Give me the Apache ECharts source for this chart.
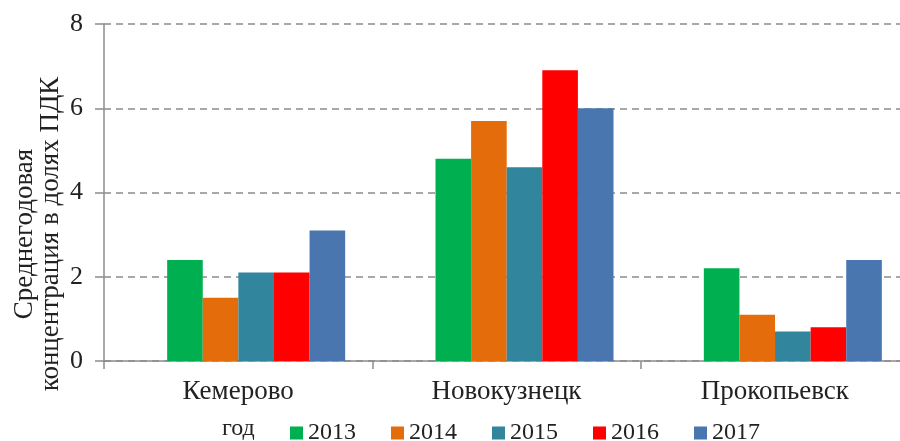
<!DOCTYPE html>
<html>
<head>
<meta charset="utf-8">
<script src="https://cdn.jsdelivr.net/npm/echarts@6/dist/echarts.min.js"></script>
<style>
  html, body { margin: 0; padding: 0; background: #fff; }
  #chart { width: 900px; height: 441px; }
</style>
</head>
<body>
<div id="chart"></div>
<script>
const cities = ['Кемерово', 'Новокузнецк', 'Прокопьевск']
const years = ['2013', '2014', '2015', '2016', '2017']
const v2013 = [2.4, 4.8, 2.2]
const v2014 = [1.5, 5.7, 1.1]
const v2015 = [2.1, 4.6, 0.7]
const v2016 = [2.1, 6.9, 0.8]
const v2017 = [3.1, 6.0, 2.4]
const yTicks = [0, 2, 4, 6, 8]

const values = [v2013, v2014, v2015, v2016, v2017]
const colors = ['#00B050', '#E46C0A', '#31859C', '#FF0000', '#4A76AF']
const font = "'Liberation Serif', 'Times New Roman', serif"
const gray = '#8c8c8c'

const chart = echarts.init(document.getElementById('chart'))

let option = {
  animation: false,
  grid: [
    // axes grid, runs a little past the right edge like the original
    {left: 104, width: 805, top: 24, bottom: 80, outerBoundsMode: 'none'},
    // bars grid (bars sit a bit right of category centres in the original)
    {left: 122, width: 805, top: 24, bottom: 80, outerBoundsMode: 'none'}
  ],
  legend: {
    data: years,
    left: 285,
    top: 416,
    icon: 'rect',
    itemWidth: 13,
    itemHeight: 13,
    itemGap: 35,
    textStyle: {fontFamily: font, fontSize: 24, color: '#222'}
  },
  graphic: [
    {
      type: 'text',
      x: 222,
      y: 429,
      style: {
        text: 'год',
        fontFamily: font,
        fontSize: 24,
        fill: '#222',
        verticalAlign: 'middle'
      }
    },
    {
      type: 'text',
      x: 38,
      y: 234,
      rotation: Math.PI / 2,
      style: {
        text: 'Среднегодовая\nконцентрация в долях ПДК',
        fontFamily: font,
        fontSize: 27,
        fill: '#222',
        align: 'center',
        verticalAlign: 'middle',
        lineHeight: 26
      }
    }
  ],
  xAxis: [
    {
      gridIndex: 0,
      type: 'category',
      data: cities,
      axisLine: {lineStyle: {color: gray, width: 1.5}},
      axisTick: {show: true, length: 8, lineStyle: {color: gray, width: 1.5}},
      axisLabel: {fontFamily: font, fontSize: 27, color: '#222', margin: 17}
    },
    {
      gridIndex: 1,
      type: 'category',
      data: cities,
      show: false
    }
  ],
  yAxis: [
    {
      gridIndex: 0,
      type: 'value',
      min: yTicks[0],
      max: yTicks[yTicks.length - 1],
      interval: 2,
      axisLine: {show: true, lineStyle: {color: gray, width: 1.5}},
      axisTick: {show: true, length: 9, lineStyle: {color: gray, width: 1.5}},
      axisLabel: {fontFamily: font, fontSize: 26, color: '#222', margin: 21},
      splitLine: {lineStyle: {color: gray, width: 1.5, type: [7, 5]}}
    },
    {
      gridIndex: 1,
      type: 'value',
      min: yTicks[0],
      max: yTicks[yTicks.length - 1],
      show: false,
      splitLine: {show: false}
    }
  ],
  series: years.map((y, i) => ({
    name: y,
    type: 'bar',
    xAxisIndex: 1,
    yAxisIndex: 1,
    data: values[i],
    barWidth: 35.6,
    barGap: '0%',
    itemStyle: {color: colors[i]}
  }))
}

chart.setOption(option)
</script>
</body>
</html>
